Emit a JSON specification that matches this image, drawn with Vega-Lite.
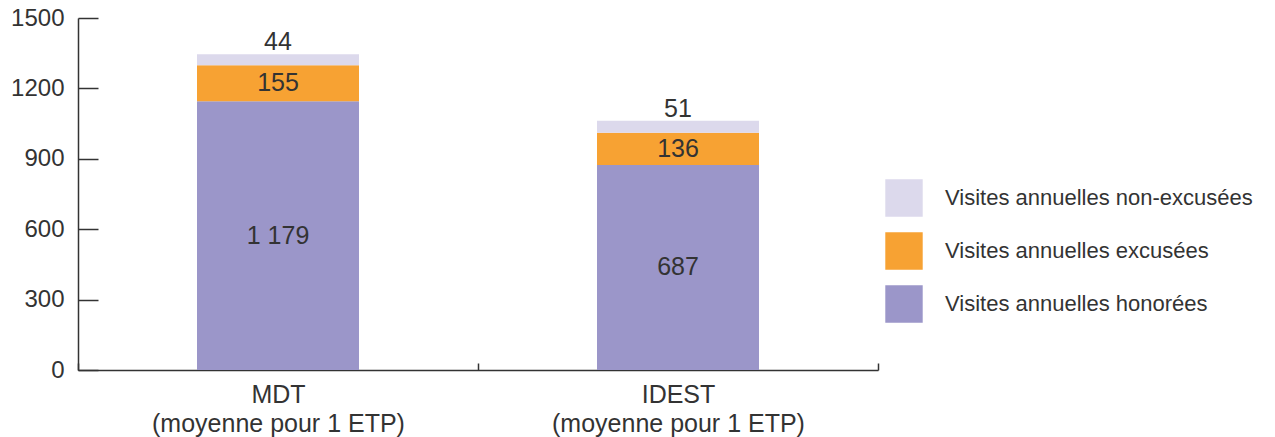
{
  "$schema": "https://vega.github.io/schema/vega-lite/v6.json",
  "width": 800,
  "height": 352,
  "autosize": {"type": "none"},
  "padding": {"left": 78, "top": 18, "right": 397, "bottom": 67},
  "background": "white",
  "config": {
    "view": {"stroke": null},
    "font": "Liberation Sans",
    "axis": {"domainColor": "#333333", "tickColor": "#333333", "labelColor": "#333333", "grid": false, "title": null, "domainWidth": 1.5, "tickWidth": 1.5, "labelLimit": 400}
  },
  "data": {
    "values": [
      {"cat": "MDT", "serie": "Visites annuelles honorées", "ordre": 1, "value": 1145, "label": "1 179"},
      {"cat": "MDT", "serie": "Visites annuelles excusées", "ordre": 2, "value": 154, "label": "155"},
      {"cat": "MDT", "serie": "Visites annuelles non-excusées", "ordre": 3, "value": 46, "label": "44"},
      {"cat": "IDEST", "serie": "Visites annuelles honorées", "ordre": 1, "value": 874, "label": "687"},
      {"cat": "IDEST", "serie": "Visites annuelles excusées", "ordre": 2, "value": 137, "label": "136"},
      {"cat": "IDEST", "serie": "Visites annuelles non-excusées", "ordre": 3, "value": 51, "label": "51"}
    ]
  },
  "transform": [
    {"stack": "value", "groupby": ["cat"], "sort": [{"field": "ordre", "order": "ascending"}], "as": ["y0", "y1"]},
    {"calculate": "(datum.y0 + datum.y1) / 2", "as": "ymid"}
  ],
  "encoding": {
    "x": {
      "field": "cat", "type": "nominal", "sort": ["MDT", "IDEST"],
      "scale": {"paddingInner": 0, "paddingOuter": 0},
      "axis": {
        "labelAngle": 0, "tickBand": "extent", "tickSize": -7, "labelPadding": 19,
        "labelFontSize": 25, "labelLineHeight": 29, "labelBaseline": "top",
        "labelExpr": "datum.label ? [datum.label, '(moyenne pour 1 ETP)'] : ''"
      }
    }
  },
  "layer": [
    {
      "mark": {"type": "bar", "width": {"band": 0.405}},
      "encoding": {
        "y": {
          "field": "y0", "type": "quantitative",
          "scale": {"domain": [0, 1500], "nice": false},
          "axis": {"values": [0, 300, 600, 900, 1200, 1500], "format": "d", "tickSize": -20, "labelPadding": 34, "labelFontSize": 24}
        },
        "y2": {"field": "y1"},
        "color": {
          "field": "serie", "type": "nominal",
          "scale": {
            "domain": ["Visites annuelles non-excusées", "Visites annuelles excusées", "Visites annuelles honorées"],
            "range": ["#dcd9ec", "#f7a233", "#9b96c9"]
          },
          "legend": {
            "orient": "none", "legendX": 807, "legendY": 161, "title": null,
            "symbolType": "square", "symbolSize": 1400, "symbolStrokeWidth": 0,
            "labelFontSize": 22, "labelColor": "#333333", "labelOffset": 22, "rowPadding": 15, "padding": 0, "labelLimit": 400
          }
        }
      }
    },
    {
      "transform": [{"filter": "datum.ordre < 3"}],
      "mark": {"type": "text", "fontSize": 25, "color": "#333333", "baseline": "middle"},
      "encoding": {
        "y": {"field": "ymid", "type": "quantitative"},
        "text": {"field": "label"}
      }
    },
    {
      "transform": [{"filter": "datum.ordre == 3"}],
      "mark": {"type": "text", "fontSize": 25, "color": "#333333", "baseline": "bottom", "dy": 1},
      "encoding": {
        "y": {"field": "y1", "type": "quantitative"},
        "text": {"field": "label"}
      }
    }
  ]
}
